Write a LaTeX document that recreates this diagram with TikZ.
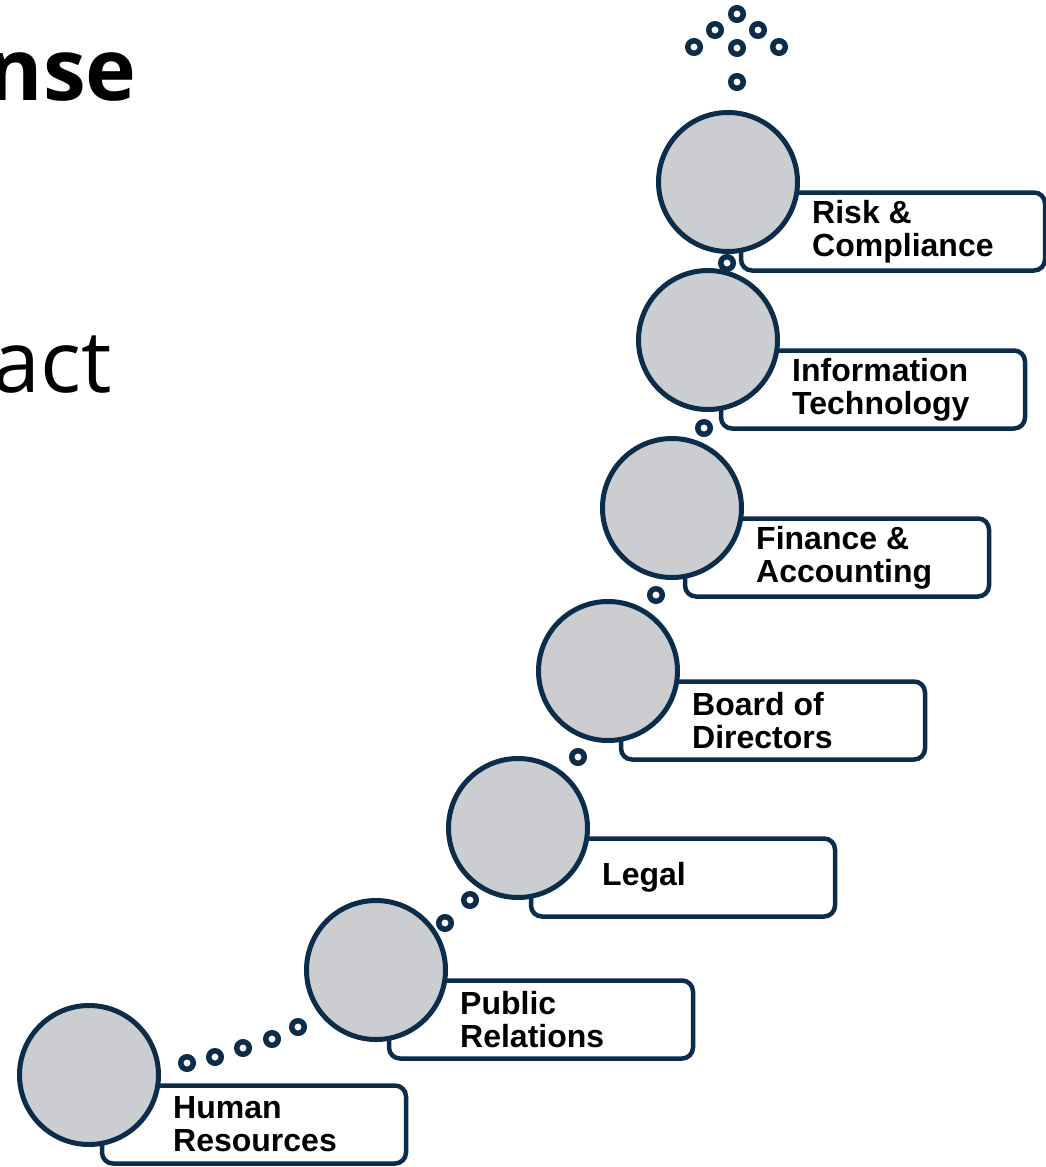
\documentclass[tikz,border=0pt]{standalone}
\usepackage{fontspec}
\usepackage{tikz}
\usetikzlibrary{positioning}
\setmainfont{Liberation Sans}
\newfontfamily\headfont{Open Sans}
\definecolor{navy}{HTML}{0B2D4B}
\definecolor{stone}{HTML}{CBCDD1}

\begin{document}
\begin{tikzpicture}[x=1pt,y=-1pt,node distance=2cm,
                    main node/.style={circle,draw=navy,fill=stone,line width=5pt,minimum size=139pt,inner sep=0pt},
                    dept box/.style={draw=navy,fill=white,line width=4.5pt,rounded corners=11pt,
                                     minimum width=304pt,minimum height=78pt,outer sep=0pt,inner sep=0pt},
                    dept text/.style={align=left,inner sep=0pt,font=\fontsize{32}{33}\selectfont\bfseries},
                    dot/.style={circle,draw=navy,fill=white,line width=5.5pt,minimum size=12.5pt,inner sep=0pt}]

      \useasboundingbox (0,0) rectangle (1045,1167);

      % heading fragments on the left
      \node[anchor=base east,inner sep=0pt,font=\headfont\fontsize{86}{90}\selectfont\bfseries] (head) at (137,100) {nse};
      \node[anchor=base east,inner sep=0pt,font=\headfont\fontsize{86}{90}\selectfont] (sub) at (112,392) {act};

      % centres of the steps
      \coordinate (p1) at (89,1075);
      \coordinate (p2) at (376,970);
      \coordinate (p3) at (518,828);
      \coordinate (p4) at (608,671);
      \coordinate (p5) at (672,508);
      \coordinate (p6) at (708,340);
      \coordinate (p7) at (728,182);

      % label boxes sit behind the circles
      \node[dept box] (b1) [below right=10.5pt and 13pt of p1] {};
      \node[dept box] (b2) [below right=10.5pt and 13pt of p2] {};
      \node[dept box] (b3) [below right=10.5pt and 13pt of p3] {};
      \node[dept box] (b4) [below right=10.5pt and 13pt of p4] {};
      \node[dept box] (b5) [below right=10.5pt and 13pt of p5] {};
      \node[dept box] (b6) [below right=10.5pt and 13pt of p6] {};
      \node[dept box] (b7) [below right=10.5pt and 13pt of p7] {};

      \node[main node] (1) at (p1) {};
      \node[main node] (2) at (p2) {};
      \node[main node] (3) at (p3) {};
      \node[main node] (4) at (p4) {};
      \node[main node] (5) at (p5) {};
      \node[main node] (6) at (p6) {};
      \node[main node] (7) at (p7) {};

      \node[dept text] (t1) [right=71pt of b1.west] {Human\\Resources};
      \node[dept text] (t2) [right=71pt of b2.west] {Public\\Relations};
      \node[dept text] (t3) [right=71pt of b3.west] {Legal};
      \node[dept text] (t4) [right=71pt of b4.west] {Board of\\Directors};
      \node[dept text] (t5) [right=71pt of b5.west] {Finance \&\\Accounting};
      \node[dept text] (t6) [right=71pt of b6.west] {Information\\Technology};
      \node[dept text] (t7) [right=71pt of b7.west] {Risk \&\\Compliance};

      % small rings climbing between the steps
      \node[dot] (d1) at (187,1063) {};
      \node[dot] (d2) at (215,1057) {};
      \node[dot] (d3) at (243,1048) {};
      \node[dot] (d4) at (272,1039) {};
      \node[dot] (d5) at (298,1027) {};
      \node[dot] (d6) at (445,923) {};
      \node[dot] (d7) at (470,900) {};
      \node[dot] (d8) at (578,757) {};
      \node[dot] (d9) at (656,595) {};
      \node[dot] (d10) at (704,428) {};
      \node[dot] (d11) at (727,263) {};

      % rings fanning out above the top step
      \node[dot] (u1) at (737,82) {};
      \node[dot] (u2) at (737,48) {};
      \node[dot] (u3) at (694,47) {};
      \node[dot] (u4) at (779,47) {};
      \node[dot] (u5) at (715,30) {};
      \node[dot] (u6) at (758,30) {};
      \node[dot] (u7) at (737,14) {};
    \end{tikzpicture}
\end{document}
